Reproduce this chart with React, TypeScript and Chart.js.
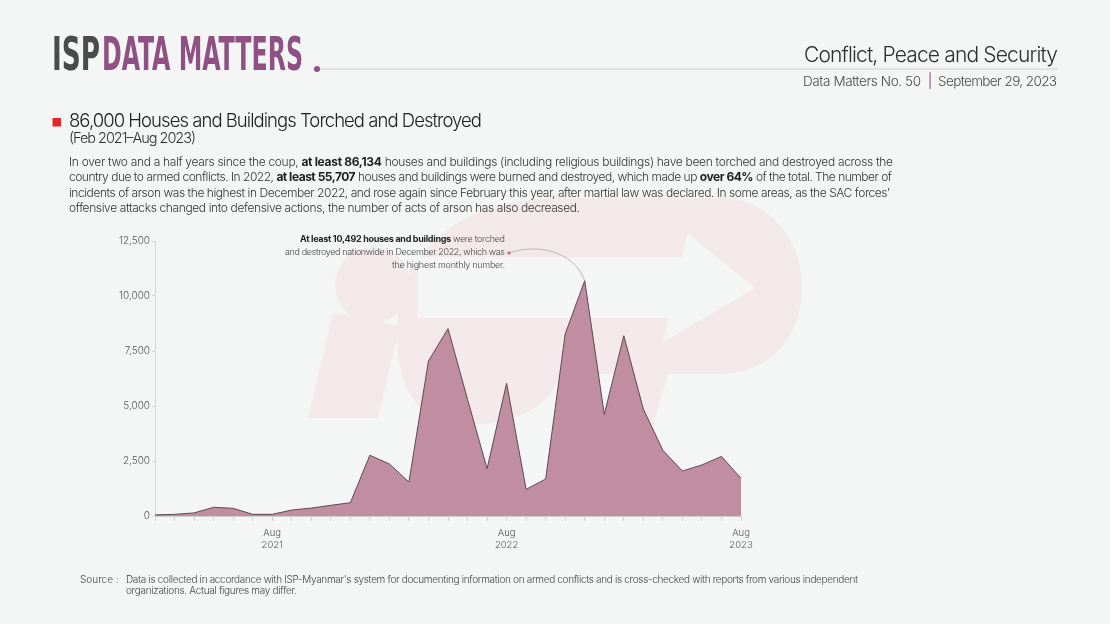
import React, { useEffect, useRef } from "react";
import { Chart, registerables } from "chart.js";

Chart.register(...registerables);

// ---------------- DATA ----------------
const categories = [
  "Feb 2021", "Mar 2021", "Apr 2021", "May 2021", "Jun 2021", "Jul 2021", "Aug 2021",
  "Sep 2021", "Oct 2021", "Nov 2021", "Dec 2021",
  "Jan 2022", "Feb 2022", "Mar 2022", "Apr 2022", "May 2022", "Jun 2022", "Jul 2022",
  "Aug 2022", "Sep 2022", "Oct 2022", "Nov 2022", "Dec 2022",
  "Jan 2023", "Feb 2023", "Mar 2023", "Apr 2023", "May 2023", "Jun 2023", "Jul 2023", "Aug 2023",
];

const housesDestroyed = [
  50, 75, 140, 395, 350, 75, 75, 270, 360, 485, 605,
  2760, 2365, 1545, 7045, 8515, 5300, 2150, 6030, 1210, 1680, 8270, 10700,
  4620, 8195, 4860, 2985, 2045, 2320, 2710, 1710,
];

const labeledTicks = ["Aug 2021", "Aug 2022", "Aug 2023"];
const yMin = 0;
const yMax = 12500;
const yStep = 2500;
const peakCategory = "Dec 2022";

// ---------------- STYLE ----------------
const BG = "#f4f6f5";
const WM = "#f3e9eb";
const FONT = "Inter, 'Noto Sans', sans-serif";

const CANVAS_LEFT = 90;
const CANVAS_TOP = 222;
const CANVAS_W = 680;
const CANVAS_H = 340;

const annotationCurve = {
  id: "annotationCurve",
  afterDatasetsDraw(chart: any) {
    const meta = chart.getDatasetMeta(0);
    const idx = categories.indexOf(peakCategory);
    const pt = meta.data[idx];
    if (!pt) return;
    const ctx = chart.ctx;
    const sx = 509 - CANVAS_LEFT;
    const sy = 253 - CANVAS_TOP;
    ctx.save();
    ctx.beginPath();
    ctx.moveTo(sx, sy);
    ctx.bezierCurveTo(sx + 26, sy - 9, pt.x - 12, sy - 4, pt.x, pt.y);
    ctx.strokeStyle = "#a9a9a9";
    ctx.lineWidth = 0.8;
    ctx.stroke();
    ctx.beginPath();
    ctx.arc(sx, sy, 1.8, 0, Math.PI * 2);
    ctx.fillStyle = "#c47a98";
    ctx.fill();
    ctx.restore();
  },
};

function AreaChart() {
  const ref = useRef<HTMLCanvasElement | null>(null);
  useEffect(() => {
    if (!ref.current) return;
    const chart = new Chart(ref.current, {
      type: "line",
      data: {
        labels: categories,
        datasets: [
          {
            data: housesDestroyed,
            fill: "origin",
            backgroundColor: "#c08ea0",
            borderColor: "#5b4951",
            borderWidth: 1,
            pointRadius: 0,
            tension: 0,
          },
        ],
      },
      options: {
        responsive: false,
        animation: false,
        events: [],
        layout: { padding: { top: 19, right: 29, left: 0, bottom: 0 } },
        plugins: { legend: { display: false }, tooltip: { enabled: false } },
        scales: {
          x: {
            grid: { drawOnChartArea: false, drawTicks: true, tickLength: 5, color: "#cfcfcf" },
            border: { color: "#d0d0d0" },
            ticks: {
              autoSkip: false,
              maxRotation: 0,
              padding: 6,
              color: "#555",
              font: { size: 9.5, family: FONT, weight: "300", lineHeight: 1.3 },
              callback: (_v: any, i: number) =>
                labeledTicks.includes(categories[i]) ? categories[i].split(" ") : "",
            },
            afterFit: (s: any) => {
              s.height = 46;
            },
          },
          y: {
            min: yMin,
            max: yMax,
            ticks: {
              stepSize: yStep,
              color: "#555",
              padding: 2,
              font: { size: 10, family: FONT, weight: "300" },
              callback: (v: any) => Number(v).toLocaleString("en-US"),
            },
            grid: { drawOnChartArea: false, drawTicks: true, tickLength: 3, color: "#d5d5d5" },
            border: { color: "#d8d8d8" },
            afterFit: (s: any) => {
              s.width = 65;
            },
          },
        },
      },
      plugins: [annotationCurve],
    } as any);
    return () => chart.destroy();
  }, []);
  return (
    <canvas
      ref={ref}
      width={CANVAS_W}
      height={CANVAS_H}
      style={{ width: CANVAS_W, height: CANVAS_H, display: "block" }}
    />
  );
}

function Watermark() {
  return (
    <svg width={1110} height={624} style={{ position: "absolute", left: 0, top: 0 }}>
      <g fill={WM}>
        <circle cx={373} cy={285} r={38} />
        <polygon points="308,418 378,418 400,326 333,313" />
        <path d="M 397 340 C 394 255 455 198 560 198 L 720 198 C 770 198 802 240 802 288 C 802 336 770 374 720 374 L 668 374 L 640 470 L 592 470 L 620 374 L 560 374 C 550 410 510 425 465 425 C 425 425 398 395 397 340 Z" />
      </g>
      <g fill={BG}>
        <polygon points="418,257 682,257 687,233 755,288 663,342 668,318 418,318" />
      </g>
    </svg>
  );
}

function Texts() {
  const t: React.CSSProperties = { whiteSpace: "pre" };
  return (
    <svg
      width={1110}
      height={624}
      style={{ position: "absolute", left: 0, top: 0, pointerEvents: "none" }}
      fontFamily={FONT}
    >
      {/* Logo */}
      <text
        x={52}
        y={69.5}
        fontFamily="'Liberation Sans Narrow', 'DejaVu Sans Condensed', sans-serif"
        fontWeight={700}
        fontSize={47}
        fill="#4b4b4b"
        textLength={48}
        lengthAdjust="spacingAndGlyphs"
      >
        ISP
      </text>
      <text
        x={102}
        y={69.5}
        fontFamily="'Liberation Sans Narrow', 'DejaVu Sans Condensed', sans-serif"
        fontWeight={700}
        fontSize={47}
        fill="#8f5083"
        textLength={201}
        lengthAdjust="spacingAndGlyphs"
      >
        DATA MATTERS
      </text>
      <circle cx={317} cy={69} r={3} fill="#8f5083" />
      <rect x={320} y={68.3} width={738} height={1.4} fill="#ddd7de" />

      {/* Right header */}
      <text x={1058} y={62} textAnchor="end" fontSize={21} fontWeight={300} fill="#2e2e2e" textLength={254} lengthAdjust="spacing">
        Conflict, Peace and Security
      </text>
      <text x={803} y={86} fontSize={13.5} fontWeight={300} fill="#4a4a4a" textLength={118} lengthAdjust="spacing">
        Data Matters No. 50
      </text>
      <text x={930} y={86} textAnchor="middle" fontSize={14} fontWeight={400} fill="#a0508a">
        |
      </text>
      <text x={938} y={86} fontSize={13.5} fontWeight={300} fill="#4a4a4a" textLength={119} lengthAdjust="spacing">
        September 29, 2023
      </text>

      {/* Title */}
      <rect x={52.5} y={118} width={8.5} height={8.5} fill="#e3262c" />
      <text x={69} y={126.7} fontSize={18.5} fontWeight={300} fill="#1e1e1e" textLength={413} lengthAdjust="spacing">
        86,000 Houses and Buildings Torched and Destroyed
      </text>
      <text x={69} y={142.5} fontSize={14.5} fontWeight={300} fill="#2e2e2e" textLength={127} lengthAdjust="spacing">
        (Feb 2021–Aug 2023)
      </text>

      {/* Paragraph */}
      <g fontSize={12} fill="#333" fontWeight={300}>
        <text x={69} y={165.5} style={t} textLength={824} lengthAdjust="spacing">
          {"In over two and a half years since the coup, "}
          <tspan fontWeight={700} fill="#1e1e1e">{"at least 86,134"}</tspan>
          {" houses and buildings (including religious buildings) have been torched and destroyed across the"}
        </text>
        <text x={69} y={181} style={t} textLength={823} lengthAdjust="spacing">
          {"country due to armed conflicts. In 2022, "}
          <tspan fontWeight={700} fill="#1e1e1e">{"at least 55,707"}</tspan>
          {" houses and buildings were burned and destroyed, which made up "}
          <tspan fontWeight={700} fill="#1e1e1e">{"over 64%"}</tspan>
          {" of the total. The number of"}
        </text>
        <text x={69} y={196.5} style={t} textLength={821} lengthAdjust="spacing">
          {"incidents of arson was the highest in December 2022, and rose again since February this year, after martial law was declared. In some areas, as the SAC forces’"}
        </text>
        <text x={69} y={212} style={t} textLength={511} lengthAdjust="spacing">
          {"offensive attacks changed into defensive actions, the number of acts of arson has also decreased."}
        </text>
      </g>

      {/* Annotation */}
      <g fontSize={9} fill="#444" fontWeight={300}>
        <text x={505} y={241.7} textAnchor="end" style={t} textLength={205} lengthAdjust="spacing">
          <tspan fontWeight={700} fill="#222">{"At least 10,492 houses and buildings"}</tspan>
          {" were torched"}
        </text>
        <text x={505} y={254.5} textAnchor="end" style={t} textLength={220} lengthAdjust="spacing">
          {"and destroyed nationwide in December 2022, which was"}
        </text>
        <text x={505} y={267.5} textAnchor="end" style={t} textLength={113} lengthAdjust="spacing">
          {"the highest monthly number."}
        </text>
      </g>

      {/* Source */}
      <g fontSize={10} fill="#444" fontWeight={300}>
        <text x={80} y={582.5} style={t}>{"Source :"}</text>
        <text x={126} y={582.5} style={t} textLength={732} lengthAdjust="spacing">
          {"Data is collected in accordance with ISP-Myanmar's system for documenting information on armed conflicts and is cross-checked with reports from various independent"}
        </text>
        <text x={126} y={594} style={t} textLength={171} lengthAdjust="spacing">
          {"organizations. Actual figures may differ."}
        </text>
      </g>
    </svg>
  );
}

export default function App() {
  return (
    <div
      style={{
        position: "fixed",
        left: 0,
        top: 0,
        width: 1110,
        height: 624,
        background: BG,
        overflow: "hidden",
        fontFamily: FONT,
      }}
    >
      <Watermark />
      <div style={{ position: "absolute", left: CANVAS_LEFT, top: CANVAS_TOP, width: CANVAS_W, height: CANVAS_H }}>
        <AreaChart />
      </div>
      <Texts />
    </div>
  );
}
